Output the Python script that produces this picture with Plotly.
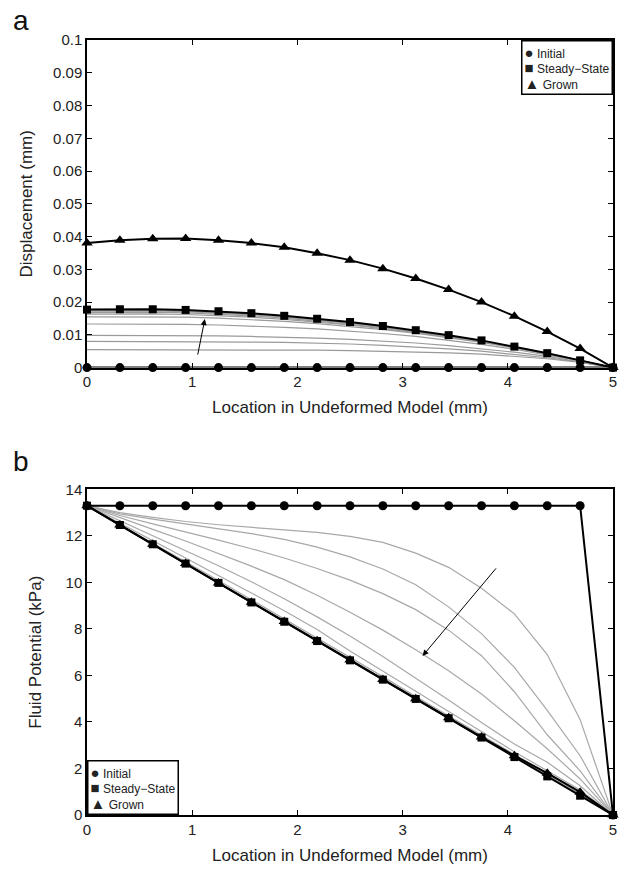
import plotly.graph_objects as go

# ---------------- data ----------------
x_pts = [0, 0.3125, 0.625, 0.9375, 1.25, 1.5625, 1.875, 2.1875, 2.5, 2.8125,
         3.125, 3.4375, 3.75, 4.0625, 4.375, 4.6875, 5.0]

# Panel a: displacement (mm)
disp_initial = [0.0] * 17
disp_steady = [0.0177, 0.0178, 0.0178, 0.0176, 0.0172, 0.0166, 0.0158, 0.0149, 0.0139,
               0.0127, 0.0114, 0.0099, 0.0083, 0.0064, 0.0044, 0.0022, 0.0]
disp_grown = [0.0380, 0.0389, 0.0393, 0.0394, 0.0389, 0.0380, 0.0367, 0.0349, 0.0328,
              0.0302, 0.0272, 0.0238, 0.0200, 0.0157, 0.0110, 0.0058, 0.0]
disp_t1 = [0.0055, 0.0055, 0.0055, 0.0055, 0.0055, 0.0055, 0.0054, 0.0053, 0.0052,
           0.0050, 0.0048, 0.0045, 0.0041, 0.0035, 0.0027, 0.0016, 0.0]
disp_t2 = [0.0080, 0.0080, 0.0080, 0.0080, 0.0079, 0.0078, 0.0077, 0.0075, 0.0072,
           0.0068, 0.0063, 0.0057, 0.0050, 0.0041, 0.0030, 0.0017, 0.0]
disp_t3 = [0.0098, 0.0098, 0.0098, 0.0098, 0.0097, 0.0095, 0.0093, 0.0090, 0.0086,
           0.0081, 0.0075, 0.0067, 0.0058, 0.0047, 0.0034, 0.0018, 0.0]
disp_t4 = [0.0133, 0.0133, 0.0133, 0.0132, 0.0130, 0.0127, 0.0123, 0.0118, 0.0112,
           0.0104, 0.0095, 0.0084, 0.0071, 0.0056, 0.0039, 0.0020, 0.0]
disp_t5 = [0.0155, 0.0155, 0.0155, 0.0154, 0.0151, 0.0147, 0.0141, 0.0134, 0.0126,
           0.0116, 0.0105, 0.0092, 0.0077, 0.0060, 0.0041, 0.0021, 0.0]
disp_t6 = [0.0163, 0.0164, 0.0164, 0.0162, 0.0159, 0.0154, 0.0147, 0.0139, 0.0130,
           0.0119, 0.0107, 0.0094, 0.0079, 0.0061, 0.0042, 0.0021, 0.0]
disp_t7 = [0.0168, 0.0169, 0.0169, 0.0167, 0.0163, 0.0158, 0.0151, 0.0142, 0.0133,
           0.0122, 0.0109, 0.0095, 0.0080, 0.0062, 0.0043, 0.0021, 0.0]
disp_t8 = [0.0172, 0.0173, 0.0173, 0.0171, 0.0167, 0.0161, 0.0154, 0.0145, 0.0135,
           0.0124, 0.0111, 0.0097, 0.0081, 0.0063, 0.0043, 0.0022, 0.0]
disp_t9 = [0.0175, 0.0176, 0.0176, 0.0174, 0.0170, 0.0164, 0.0156, 0.0147, 0.0137,
           0.0126, 0.0113, 0.0098, 0.0082, 0.0063, 0.0044, 0.0022, 0.0]
disp_transients = [disp_t1, disp_t2, disp_t3, disp_t4, disp_t5, disp_t6, disp_t7, disp_t8, disp_t9]

# Panel b: fluid potential (kPa)
pot_initial = [13.3] * 16 + [0.0]
pot_steady = [13.30, 12.47, 11.64, 10.81, 9.98, 9.14, 8.31, 7.48, 6.65, 5.82,
              4.99, 4.16, 3.33, 2.49, 1.66, 0.83, 0.0]
pot_grown = [13.30, 12.47, 11.64, 10.81, 9.98, 9.15, 8.32, 7.49, 6.66, 5.83,
             5.00, 4.18, 3.35, 2.55, 1.80, 0.98, 0.0]
pot_t1 = [13.30, 13.00, 12.80, 12.62, 12.48, 12.38, 12.28, 12.15, 11.98, 11.72,
          11.26, 10.65, 9.75, 8.65, 6.90, 4.10, 0.0]
pot_t2 = [13.30, 12.95, 12.72, 12.52, 12.33, 12.10, 11.85, 11.52, 11.10, 10.58,
          9.90, 8.95, 7.80, 6.35, 4.50, 2.55, 0.0]
pot_t3 = [13.30, 12.88, 12.52, 12.18, 11.82, 11.45, 11.05, 10.60, 10.10, 9.52,
          8.83, 7.95, 6.85, 5.30, 3.45, 1.90, 0.0]
pot_t4 = [13.30, 12.78, 12.28, 11.78, 11.25, 10.70, 10.12, 9.45, 8.72, 7.95,
          7.11, 6.20, 5.20, 4.05, 2.85, 1.55, 0.0]
pot_t5 = [13.30, 12.65, 12.02, 11.38, 10.72, 10.03, 9.30, 8.52, 7.70, 6.82,
          5.90, 4.95, 3.98, 3.05, 2.27, 1.26, 0.0]
pot_t6 = [13.30, 12.55, 11.80, 11.07, 10.32, 9.55, 8.78, 7.98, 7.05, 6.20,
          5.32, 4.45, 3.58, 2.72, 1.90, 1.08, 0.0]
pot_t7 = [13.30, 12.50, 11.70, 10.90, 10.08, 9.26, 8.44, 7.62, 6.78, 5.95,
          5.10, 4.26, 3.42, 2.60, 1.78, 0.98, 0.0]
pot_t8 = [13.30, 12.48, 11.66, 10.84, 10.01, 9.18, 8.35, 7.52, 6.70, 5.87,
          5.03, 4.20, 3.37, 2.54, 1.72, 0.90, 0.0]
pot_transients = [pot_t1, pot_t2, pot_t3, pot_t4, pot_t5, pot_t6, pot_t7, pot_t8]

legend_names = ["Initial", "Steady\u2212State", "Grown"]
legend_glyphs = ["\u25CF", "\u25A0", "\u25B2"]

top_yticks = [0, 0.01, 0.02, 0.03, 0.04, 0.05, 0.06, 0.07, 0.08, 0.09, 0.1]
top_yticklabels = ["0", "0.01", "0.02", "0.03", "0.04", "0.05", "0.06", "0.07", "0.08", "0.09", "0.1"]
bot_yticks = [0, 2, 4, 6, 8, 10, 12, 14]
x_ticks = [0, 1, 2, 3, 4, 5]

# ---------------- figure ----------------
FONT = "Liberation Sans, Arial, Helvetica, sans-serif"
W, H = 624, 869
ml, mr, mt, mb = 87, 7, 40, 53
ph = H - mt - mb
pw = W - ml - mr
top_dom = [(816 - 368) / ph, 1.0]
bot_dom = [0.0, (816 - 490) / ph]

fig = go.Figure()
sizes = {"circle": 9, "square": 8, "triangle-up": 10}

# panel a transients
for ys in disp_transients:
    fig.add_trace(go.Scatter(x=x_pts, y=ys, mode="lines", line=dict(color="#9a9a9a", width=1.2),
                             showlegend=False, xaxis="x", yaxis="y", hoverinfo="skip"))
main_a = [(disp_initial, "circle"), (disp_steady, "square"), (disp_grown, "triangle-up")]
for ys, sym in main_a:
    fig.add_trace(go.Scatter(x=x_pts, y=ys, mode="lines+markers",
                             line=dict(color="black", width=2),
                             marker=dict(symbol=sym, size=sizes[sym], color="black"),
                             showlegend=False, xaxis="x", yaxis="y", cliponaxis=False))

# panel b transients
for ys in pot_transients:
    fig.add_trace(go.Scatter(x=x_pts, y=ys, mode="lines", line=dict(color="#a8a8a8", width=1.2),
                             showlegend=False, xaxis="x2", yaxis="y2", hoverinfo="skip"))
main_b = [(pot_initial, "circle"), (pot_steady, "square"), (pot_grown, "triangle-up")]
for ys, sym in main_b:
    fig.add_trace(go.Scatter(x=x_pts, y=ys, mode="lines+markers",
                             line=dict(color="black", width=2),
                             marker=dict(symbol=sym, size=sizes[sym], color="black"),
                             showlegend=False, xaxis="x2", yaxis="y2", cliponaxis=False))

axis_common = dict(showline=True, linecolor="black", linewidth=1.5, mirror="ticks",
                   ticks="inside", ticklen=5, tickcolor="black", showgrid=False,
                   zeroline=False, tickfont=dict(family=FONT, size=15, color="#222"))

fig.update_layout(
    width=W, height=H,
    margin=dict(l=ml, r=mr, t=mt, b=mb),
    paper_bgcolor="white", plot_bgcolor="white",
    font=dict(family=FONT, color="#222"),
    showlegend=False,
    xaxis=dict(domain=[0, 1], anchor="y", range=[0, 5], tickvals=x_ticks,
               title=dict(text="Location in Undeformed Model (mm)", font=dict(size=17), standoff=12),
               **axis_common),
    yaxis=dict(domain=top_dom, anchor="x", range=[0, 0.1], tickvals=top_yticks,
               ticktext=top_yticklabels,
               title=dict(text="Displacement (mm)", font=dict(size=17), standoff=16),
               **axis_common),
    xaxis2=dict(domain=[0, 1], anchor="y2", range=[0, 5], tickvals=x_ticks,
                title=dict(text="Location in Undeformed Model (mm)", font=dict(size=17), standoff=12),
                **axis_common),
    yaxis2=dict(domain=bot_dom, anchor="x2", range=[0, 14], tickvals=bot_yticks,
                title=dict(text="Fluid Potential (kPa)", font=dict(size=17), standoff=20),
                **axis_common),
)

# legend boxes (text legend, as in the original figure)
legend_text = "<br>".join(f"<span style='font-size:15px'>{g}</span> {n}"
                          for g, n in zip(legend_glyphs, legend_names))
fig.add_annotation(text=legend_text, xref="paper", yref="paper", x=1, y=1,
                   xanchor="right", yanchor="top", align="left", showarrow=False,
                   bgcolor="white", bordercolor="black", borderwidth=1.5, borderpad=2,
                   font=dict(family=FONT, size=12, color="#222"))
fig.add_annotation(text=legend_text, xref="paper", yref="paper", x=0, y=0,
                   xanchor="left", yanchor="bottom", align="left", showarrow=False,
                   bgcolor="white", bordercolor="black", borderwidth=1.5, borderpad=2,
                   font=dict(family=FONT, size=12, color="#222"))

# panel letters
fig.add_annotation(text="a", xref="paper", yref="paper", x=(20 - ml) / pw, y=(H - mb - 20) / ph,
                   xanchor="center", yanchor="middle", showarrow=False,
                   font=dict(family=FONT, size=28, color="#111"))
fig.add_annotation(text="b", xref="paper", yref="paper", x=(20 - ml) / pw, y=(H - mb - 462) / ph,
                   xanchor="center", yanchor="middle", showarrow=False,
                   font=dict(family=FONT, size=28, color="#111"))

# arrows indicating time progression
fig.add_annotation(x=1.12, y=0.0148, ax=1.05, ay=0.0035, xref="x", yref="y",
                   axref="x", ayref="y", showarrow=True, arrowhead=2, arrowsize=1.2,
                   arrowwidth=1, arrowcolor="black", text="")
fig.add_annotation(x=3.19, y=6.84, ax=3.90, ay=10.67, xref="x2", yref="y2",
                   axref="x2", ayref="y2", showarrow=True, arrowhead=2, arrowsize=1.2,
                   arrowwidth=1, arrowcolor="black", text="")

fig.write_html("out.html", config={"displayModeBar": False},
               post_script="document.body.style.margin='0';document.body.style.overflow='hidden';")
